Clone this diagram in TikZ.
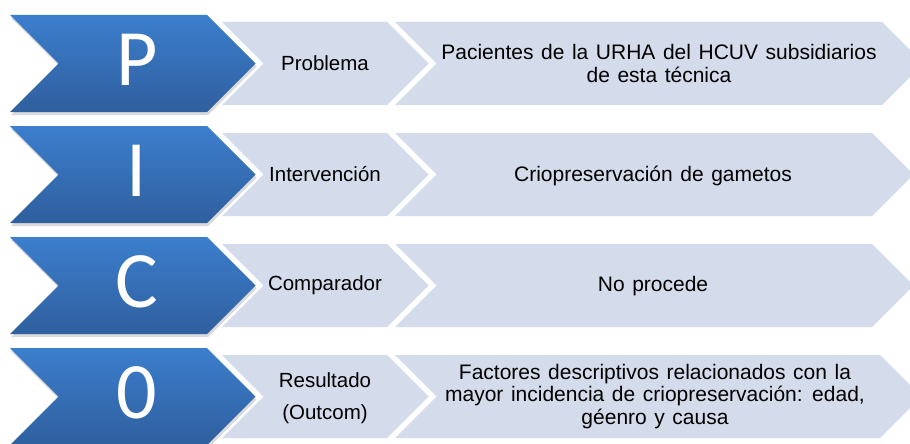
\documentclass[tikz,border=0pt]{standalone}
\usepackage{fontspec}
\setmainfont{Liberation Sans}
\newfontfamily\letterfont{Carlito}
\usepackage{tikz}
\usetikzlibrary{shadows}
\definecolor{picotop}{HTML}{3C7ECD}
\definecolor{picobot}{HTML}{2F5F9E}
\definecolor{picolight}{HTML}{D4DBEA}
\newcommand{\CHEV}[4]{ %&%
  (#1,#3-#4) -- (#2,#3-#4) -- (#2+#4,#3) -- (#2,#3+#4) -- (#1,#3+#4) -- (#1+#4,#3) -- cycle %&%
}
\newcommand{\WIDESPACE}{\spaceskip 0.36em\relax}

\begin{document}
\begin{tikzpicture}[x=1pt, y=-1pt,
    bluechev/.style={top color=picotop, bottom color=picobot,
      drop shadow={opacity=0.3, shadow xshift=1pt, shadow yshift=-3pt}},
    lightchev/.style={fill=picolight},
    letter/.style={text=white, anchor=base, font=\letterfont\fontsize{80}{80}\selectfont},
    itemtext/.style={align=center, font=\fontsize{20.5}{23}\selectfont},
    desctext/.style={align=center, font=\fontsize{21}{22.5}\selectfont\WIDESPACE}]
  \useasboundingbox (0,0) rectangle (910,444);
  \clip (0,0) rectangle (910,444);

  \path [lightchev] \CHEV{395}{882}{63.5}{41.5};
  \path [lightchev] \CHEV{222}{387}{63.5}{41.5};
  \path [bluechev] \CHEV{10}{207}{63.5}{48.5};
  \node [letter] (p) at (137,85.5) {P};
  \node [itemtext] (pname) at (325,63.5) {Problema};
  \node [desctext] (pdesc) at (659,63.5) {Pacientes de la URHA del HCUV subsidiarios\\de esta técnica};

  \path [lightchev] \CHEV{395}{872}{174.5}{41.5};
  \path [lightchev] \CHEV{222}{387}{174.5}{41.5};
  \path [bluechev] \CHEV{10}{207}{174.5}{48.5};
  \node [letter] (i) at (137,196.5) {I};
  \node [itemtext] (iname) at (325,174.5) {Intervención};
  \node [desctext] (idesc) at (653,175.5) {Criopreservación de gametos};

  \path [lightchev] \CHEV{395}{872}{285.5}{41.5};
  \path [lightchev] \CHEV{222}{387}{285.5}{41.5};
  \path [bluechev] \CHEV{10}{207}{285.5}{48.5};
  \node [letter] (c) at (137,307.5) {C};
  \node [itemtext] (cname) at (325,285.5) {Comparador};
  \node [desctext] (cdesc) at (653,286.5) {No procede};

  \path [lightchev] \CHEV{395}{880}{396.5}{41.5};
  \path [lightchev] \CHEV{222}{387}{396.5}{41.5};
  \path [bluechev] \CHEV{10}{207}{396.5}{48.5};
  \node [letter] (o) at (137,418.5) {0};
  \node [itemtext] (oname) at (325,398) {Resultado\\[9pt](Outcom)};
  \node [desctext] (odesc) at (655,396.5) {Factores descriptivos relacionados con la\\mayor incidencia de criopreservación: edad,\\géenro y causa};
\end{tikzpicture}
\end{document}
